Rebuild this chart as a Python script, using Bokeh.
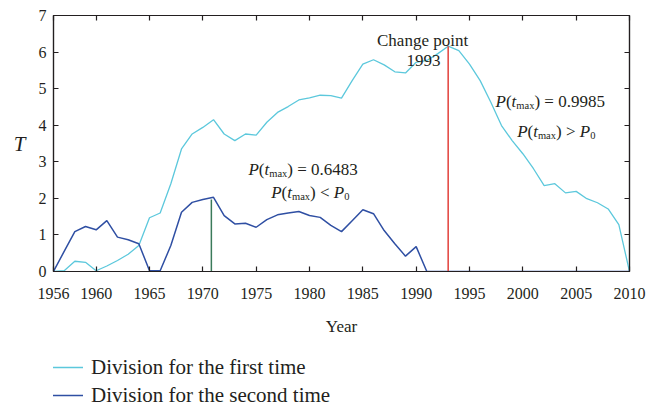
from bokeh.plotting import figure
from bokeh.layouts import column
from bokeh.models import (Range1d, FixedTicker, LinearAxis, Label, Legend, LegendItem)
from bokeh.embed import file_html
from bokeh.resources import INLINE

# ---------------- data ----------------
years = list(range(1956, 2011))
first_time = [0.00, 0.02, 0.28, 0.25, 0.02, 0.15, 0.30, 0.47, 0.71, 1.47,
              1.60, 2.40, 3.35, 3.76, 3.94, 4.15, 3.76, 3.58, 3.76, 3.73,
              4.08, 4.35, 4.51, 4.69, 4.75, 4.82, 4.81, 4.74, 5.22, 5.67,
              5.79, 5.65, 5.46, 5.43, 5.72, 5.77, 5.95, 6.16, 6.04, 5.67,
              5.22, 4.63, 3.99, 3.58, 3.22, 2.81, 2.35, 2.40, 2.15, 2.19,
              1.99, 1.88, 1.71, 1.28, 0.00]
second_time = [0.00, 0.55, 1.09, 1.23, 1.14, 1.39, 0.94, 0.87, 0.76, 0.02,
               0.02, 0.71, 1.62, 1.89, 1.97, 2.03, 1.53, 1.30, 1.32, 1.21,
               1.42, 1.55, 1.60, 1.64, 1.53, 1.48, 1.26, 1.09, 1.39, 1.69,
               1.58, 1.12, 0.76, 0.42, 0.68, 0.00, 0.00, 0.00, 0.00, 0.00,
               0.00, 0.00, 0.00, 0.00, 0.00, 0.00, 0.00, 0.00, 0.00, 0.00,
               0.00, 0.00, 0.00, 0.00, 0.00]
x_ticks = [1956, 1960, 1965, 1970, 1975, 1980, 1985, 1990, 1995, 2000, 2005, 2010]
y_ticks = [0, 1, 2, 3, 4, 5, 6, 7]
tmax_second = 1970.8     # position of max statistic, second division
tmax_second_T = 1.97
change_year = 1993       # change point, first division
change_T = 6.16
p_values = [0.6483, 0.9985]
series_names = ["Division for the first time", "Division for the second time"]

# ---------------- style ----------------
CYAN = "#5cc8dc"
BLUE = "#2f4fa3"
RED = "#e2403a"
GREEN = "#3b7a5a"
INK = "#231f20"
FONT = "Liberation Serif"

p = figure(width=663, height=340, output_backend="svg", toolbar_location=None,
           x_range=Range1d(1956, 2010), y_range=Range1d(0, 7),
           min_border_left=53, min_border_right=34, min_border_top=15,
           min_border_bottom=69)
p.xgrid.visible = False
p.ygrid.visible = False
p.outline_line_color = INK
p.outline_line_width = 1.2
p.background_fill_color = "white"
p.border_fill_color = "white"


def style_axis(ax, ticks, show_labels=True):
    ax.ticker = FixedTicker(ticks=ticks)
    ax.major_tick_in = 5
    ax.major_tick_out = 0
    ax.minor_tick_line_color = None
    ax.axis_line_color = INK
    ax.axis_line_width = 1.2
    ax.major_tick_line_color = INK
    ax.major_tick_line_width = 1.2
    ax.major_label_text_font = FONT
    ax.major_label_text_color = INK
    if not show_labels:
        ax.major_label_text_color = None
        ax.major_label_text_font_size = "1px"
        ax.major_label_standoff = 0


xa = p.xaxis[0]
style_axis(xa, x_ticks)
xa.major_label_text_font_size = "16px"
xa.major_label_standoff = 16
xa.axis_label = "Year"
xa.axis_label_text_font = FONT
xa.axis_label_text_font_size = "17px"
xa.axis_label_text_font_style = "normal"
xa.axis_label_text_color = INK
xa.axis_label_standoff = 15

ya = p.yaxis[0]
style_axis(ya, y_ticks)
ya.major_label_text_font_size = "16px"
ya.major_label_standoff = 7
ya.axis_label = "T"
ya.axis_label_text_font = FONT
ya.axis_label_text_font_size = "21px"
ya.axis_label_text_font_style = "italic"
ya.axis_label_text_color = INK
ya.axis_label_standoff = 10
ya.axis_label_orientation = "horizontal"

top_ax = LinearAxis()
style_axis(top_ax, x_ticks, show_labels=False)
p.add_layout(top_ax, "above")
right_ax = LinearAxis()
style_axis(right_ax, y_ticks, show_labels=False)
p.add_layout(right_ax, "right")

# ---------------- series ----------------
r1 = p.line(years, first_time, line_color=CYAN, line_width=1.3)
r2 = p.line(years, second_time, line_color=BLUE, line_width=1.5)
p.segment(x0=[tmax_second], y0=[0], x1=[tmax_second], y1=[tmax_second_T],
          line_color=GREEN, line_width=1.5)
p.segment(x0=[change_year], y0=[0], x1=[change_year], y1=[change_T],
          line_color=RED, line_width=1.5)

# ---------------- annotations ----------------
# Times / Liberation Serif advance widths (per 1000 em)
W_RM = {" ": 250, "(": 333, ")": 333, "=": 564, "<": 564, ">": 564, ".": 250,
        "m": 778, "a": 444, "x": 500, "P": 556}
for d in "0123456789":
    W_RM[d] = 500
W_IT = {"P": 611, "t": 278}
MAIN = 17
SUB = 10.5


def piece_width(txt, kind):
    if kind == "it":
        return sum(W_IT.get(c, 500) for c in txt) / 1000 * MAIN
    size = SUB if kind == "sub" else MAIN
    return sum(W_RM.get(c, 500) for c in txt) / 1000 * size


def rich(x, y, pieces):
    off = 0.0
    for txt, kind in pieces:
        size = SUB if kind == "sub" else MAIN
        p.add_layout(Label(x=x, y=y, x_offset=off, y_offset=-4 if kind == "sub" else 0,
                           text=txt, text_font=FONT, text_font_size=f"{size}px",
                           text_font_style="italic" if kind == "it" else "normal",
                           text_color=INK, text_align="left", text_baseline="alphabetic"))
        off += piece_width(txt, kind)


def eq_line(pv):
    return [("P", "it"), ("(", "rm"), ("t", "it"), ("max", "sub"),
            (f") = {pv:.4f}", "rm")]


def cmp_line(op):
    return [("P", "it"), ("(", "rm"), ("t", "it"), ("max", "sub"),
            (f") {op} ", "rm"), ("P", "it"), ("0", "sub")]


rich(1974.28, 2.79, eq_line(p_values[0]))
rich(1976.41, 2.16, cmp_line("<"))
rich(1997.44, 4.65, eq_line(p_values[1]))
rich(1999.47, 3.83, cmp_line(">"))

p.add_layout(Label(x=1990.6, y=6.33, text="Change point", text_font=FONT,
                   text_font_size="17px", text_color=INK, text_align="center",
                   text_baseline="alphabetic"))
p.add_layout(Label(x=1990.69, y=5.76, text=str(change_year), text_font=FONT,
                   text_font_size="17px", text_color=INK, text_align="center",
                   text_baseline="alphabetic"))

# ---------------- legend (separate strip below the chart) ----------------
pl = figure(width=663, height=69, output_backend="svg", toolbar_location=None,
            x_range=Range1d(0, 1), y_range=Range1d(0, 1),
            x_axis_location=None, y_axis_location=None,
            min_border_left=0, min_border_right=0, min_border_top=0,
            min_border_bottom=0)
pl.xgrid.visible = False
pl.ygrid.visible = False
pl.outline_line_color = None
pl.background_fill_color = "white"
pl.border_fill_color = "white"
# legend proxies: same series, drawn outside this strip's visible range
l1 = pl.line(years, first_time, line_color=CYAN, line_width=1.3)
l2 = pl.line(years, second_time, line_color=BLUE, line_width=1.5)

legend = Legend(items=[LegendItem(label=series_names[0], renderers=[l1]),
                       LegendItem(label=series_names[1], renderers=[l2])],
                location=(-4, 0), orientation="vertical")
legend.label_text_font = FONT
legend.label_text_font_size = "21px"
legend.label_text_color = INK
legend.glyph_width = 34
legend.glyph_height = 28
legend.label_height = 28
legend.label_standoff = 8
legend.spacing = 0
legend.padding = 0
legend.margin = 0
legend.border_line_color = None
legend.background_fill_alpha = 0
pl.add_layout(legend, "center")

layout = column(p, pl, spacing=0)
open("out.html", "w").write(file_html(layout, INLINE))
